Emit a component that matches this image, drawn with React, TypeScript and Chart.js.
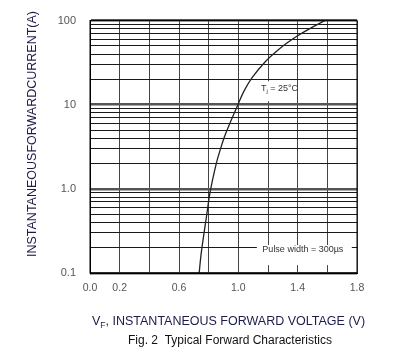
import React, { useEffect, useRef } from "react";
import { Chart, registerables } from "chart.js";

Chart.register(...registerables);

// Forward voltage (V) and instantaneous forward current (A)
const voltage = [0.736, 0.748, 0.768, 0.785, 0.809, 0.852, 0.881, 0.907, 0.946, 0.997, 1.038, 1.094, 1.183, 1.268, 1.352, 1.4, 1.488, 1.583];
const current = [0.1, 0.162, 0.292, 0.465, 0.9, 2.02, 3.03, 4.19, 6.2, 10, 14.5, 21.1, 32.7, 44.8, 58.0, 66.1, 81.3, 100];

const xTickLabels = ["0.0", "0.2", "", "0.6", "", "1.0", "", "1.4", "", "1.8"];
const yDecades = [0.1, 1, 10, 100];
const yDecadeLabels = ["0.1", "1.0", "10", "100"];
const yMinorSteps = [1, 2, 3, 4, 5, 6, 7, 8, 9];

const yTitle = "INSTANTANEOUSFORWARDCURRENT(A)";
const xTitleMain = "V";
const xTitleSub = "F";
const xTitleRest = ", INSTANTANEOUS FORWARD VOLTAGE (V)";
const figCaption = "Fig. 2  Typical Forward Characteristics";
const noteTemp = { main: "T", sub: "j", rest: " = 25\u00B0C" };
const notePulse = "Pulse width = 300\u00B5s";

const FONT = "Arial, 'Liberation Sans', sans-serif";

const isDecade = (v: number) => {
  const l = Math.log10(v);
  return Math.abs(l - Math.round(l)) < 1e-6;
};

export default function App() {
  const ref = useRef<HTMLCanvasElement | null>(null);

  useEffect(() => {
    document.body.style.margin = "0";
    const canvas = ref.current;
    if (!canvas) return;

    const decor = {
      id: "decor",
      beforeDatasetsDraw(chart: any) {
        const { ctx, scales } = chart;
        const xs = scales.x;
        const ys = scales.y;
        ctx.save();
        // Tj box
        const t1x = xs.getPixelForValue(1.135);
        const t2x = xs.getPixelForValue(1.39);
        const t1y = ys.getPixelForValue(19);
        const t2y = ys.getPixelForValue(11);
        ctx.fillStyle = "#fff";
        ctx.fillRect(t1x, t1y, t2x - t1x, t2y - t1y);
        // Pulse box
        const p1x = xs.getPixelForValue(1.125);
        const p2x = xs.getPixelForValue(1.765);
        const p1y = ys.getPixelForValue(0.215);
        const p2y = ys.getPixelForValue(0.124);
        ctx.fillRect(p1x, p1y, p2x - p1x, p2y - p1y);

        ctx.fillStyle = "#333";
        ctx.textBaseline = "middle";
        ctx.textAlign = "left";
        // Tj text
        let tx = xs.getPixelForValue(1.152);
        const ty = ys.getPixelForValue(15.6);
        ctx.font = `9px ${FONT}`;
        ctx.fillText(noteTemp.main, tx, ty);
        tx += ctx.measureText(noteTemp.main).width;
        ctx.font = `6px ${FONT}`;
        ctx.fillText(noteTemp.sub, tx, ty + 3);
        tx += ctx.measureText(noteTemp.sub).width;
        ctx.font = `9px ${FONT}`;
        ctx.fillText(noteTemp.rest, tx, ty);
        // Pulse text
        ctx.textAlign = "center";
        ctx.fillText(notePulse, xs.getPixelForValue(1.435), ys.getPixelForValue(0.19));
        ctx.restore();
      },
      afterDraw(chart: any) {
        const { ctx, chartArea } = chart;
        ctx.save();
        ctx.strokeStyle = "#000";
        ctx.lineWidth = 1;
        ctx.strokeRect(chartArea.left, chartArea.top, chartArea.right - chartArea.left, chartArea.bottom - chartArea.top);

        // Y title
        ctx.fillStyle = "#1c1c48";
        ctx.font = `12.5px ${FONT}`;
        ctx.textAlign = "center";
        ctx.textBaseline = "middle";
        ctx.translate(32.5, 134);
        ctx.rotate(-Math.PI / 2);
        ctx.fillText(yTitle, 0, 0);
        ctx.setTransform(1, 0, 0, 1, 0, 0);

        // X title
        ctx.textAlign = "left";
        ctx.textBaseline = "alphabetic";
        let x = 92;
        const base = 324.5;
        ctx.font = `12.5px ${FONT}`;
        ctx.fillText(xTitleMain, x, base);
        x += ctx.measureText(xTitleMain).width;
        ctx.font = `8.5px ${FONT}`;
        ctx.fillText(xTitleSub, x, base + 3);
        x += ctx.measureText(xTitleSub).width;
        ctx.font = `12.5px ${FONT}`;
        ctx.fillText(xTitleRest, x, base);

        // Caption
        ctx.fillStyle = "#111";
        ctx.font = `12px ${FONT}`;
        ctx.textAlign = "center";
        ctx.fillText(figCaption, 230, 343.5);
        ctx.restore();
      },
    };

    const chart = new Chart(canvas, {
      type: "line",
      data: {
        datasets: [
          {
            data: voltage.map((v, i) => ({ x: v, y: current[i] })),
            borderColor: "#222",
            borderWidth: 1.3,
            pointRadius: 0,
            tension: 0.35,
            fill: false,
          },
        ],
      },
      options: {
        animation: false,
        responsive: false,
        devicePixelRatio: 1,
        layout: { padding: { left: 0, right: 45, top: 13, bottom: 51 } },
        plugins: { legend: { display: false }, tooltip: { enabled: false }, title: { display: false } },
        scales: {
          x: {
            type: "linear",
            min: 0,
            max: 1.8,
            ticks: {
              stepSize: 0.2,
              autoSkip: false,
              maxRotation: 0,
              padding: 9,
              color: "#555",
              font: { size: 10.5, family: FONT },
              callback: (_v: any, i: number) => xTickLabels[i] ?? "",
            },
            grid: { color: "#444", lineWidth: 1, drawTicks: false },
            border: { display: true, color: "#000", width: 1 },
            afterFit: (s: any) => {
              s.height = 30;
            },
          },
          y: {
            type: "logarithmic",
            min: 0.1,
            max: 100,
            afterBuildTicks: (s: any) => {
              const t: any[] = [];
              for (let d = 0; d < yDecades.length - 1; d++) {
                for (const m of yMinorSteps) t.push({ value: yDecades[d] * m });
              }
              t.push({ value: yDecades[yDecades.length - 1] });
              s.ticks = t;
            },
            ticks: {
              autoSkip: false,
              padding: 14,
              color: "#555",
              font: { size: 11, family: FONT },
              callback: (v: any) => {
                const n = Number(v);
                const idx = yDecades.findIndex((d) => Math.abs(d - n) / d < 1e-6);
                return idx >= 0 ? yDecadeLabels[idx] : "";
              },
            },
            grid: {
              drawTicks: false,
              color: (c: any) => (c.tick && isDecade(c.tick.value) ? "#555" : "#1a1a1a"),
              lineWidth: (c: any) => (c.tick && isDecade(c.tick.value) ? 2.5 : 1),
            },
            border: { display: true, color: "#000", width: 1 },
            afterFit: (s: any) => {
              s.width = 90;
            },
          },
        },
      },
      plugins: [decor],
    } as any);

    return () => chart.destroy();
  }, []);

  return (
    <div style={{ position: "fixed", left: 0, top: 0, width: 402, height: 354, background: "#fff" }}>
      <canvas ref={ref} width={402} height={354} />
    </div>
  );
}
